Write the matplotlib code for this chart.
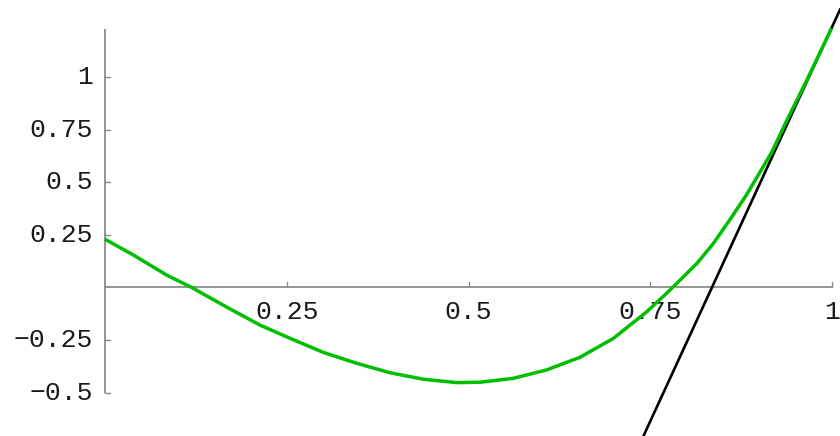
import matplotlib
matplotlib.use("Agg")
import matplotlib.pyplot as plt
import numpy as np

# Curve samples (x, f(x))
curve_x = [0.0, 0.039, 0.085, 0.119, 0.168, 0.213, 0.255, 0.300, 0.346, 0.392,
           0.438, 0.484, 0.516, 0.561, 0.607, 0.653, 0.699, 0.745, 0.772, 0.791,
           0.814, 0.836, 0.859, 0.882, 0.905, 0.917, 0.937, 0.965, 0.999]
curve_y = [0.229, 0.154, 0.058, 0.0, -0.095, -0.179, -0.243, -0.309, -0.361, -0.406,
           -0.437, -0.453, -0.451, -0.433, -0.393, -0.333, -0.243, -0.116, -0.029, 0.035,
           0.114, 0.206, 0.320, 0.439, 0.573, 0.644, 0.79, 0.985, 1.231]

# Tangent line at the right end of the curve
tangent_x0 = 1.0
tangent_y0 = 1.24
tangent_slope = 7.5

x_ticks = [0.25, 0.5, 0.75, 1.0]
x_tick_labels = ["0.25", "0.5", "0.75", "1"]
y_ticks = [-0.5, -0.25, 0.25, 0.5, 0.75, 1.0]
y_tick_labels = ["\u22120.5", "\u22120.25", "0.25", "0.5", "0.75", "1"]

x_lim = (-0.1441, 1.0106)
y_lim = (-0.7067, 1.3655)
y_axis_bottom = -0.5
y_axis_top = 1.228

fig = plt.figure(figsize=(8.4, 4.36), dpi=100)
ax = fig.add_axes([0, 0, 1, 1])
ax.set_xlim(*x_lim)
ax.set_ylim(*y_lim)
ax.axis("off")

axis_color = "#8c8c8c"
# axes crossing at the origin
ax.plot([0, 1.0], [0, 0], color=axis_color, lw=1.3, solid_capstyle="butt", zorder=1)
ax.plot([0, 0], [y_axis_bottom, y_axis_top], color=axis_color, lw=1.3,
        solid_capstyle="butt", zorder=1)

px_per_x = 840 / (x_lim[1] - x_lim[0])
px_per_y = 436 / (y_lim[1] - y_lim[0])
tick_len = 5

font = dict(family="Liberation Mono", size=19, color="#1a1a1a")
for t, lab in zip(x_ticks, x_tick_labels):
    ax.plot([t, t], [0, tick_len / px_per_y], color=axis_color, lw=1.0, zorder=1)
    ax.text(t, -13 / px_per_y, lab, ha="center", va="top", **font)
for t, lab in zip(y_ticks, y_tick_labels):
    ax.plot([0, tick_len / px_per_x], [t, t], color=axis_color, lw=1.0, zorder=1)
    ax.text(-12 / px_per_x, t, lab, ha="right", va="center", **font)

ax.plot(curve_x, curve_y, color="#00bf00", lw=2.5, zorder=3,
        solid_joinstyle="round", solid_capstyle="butt")

lx = np.array([x_lim[0], x_lim[1]])
ly = tangent_y0 + tangent_slope * (lx - tangent_x0)
ax.plot(lx, ly, color="black", lw=1.9, zorder=2)

fig.savefig("out.png", dpi=100)
